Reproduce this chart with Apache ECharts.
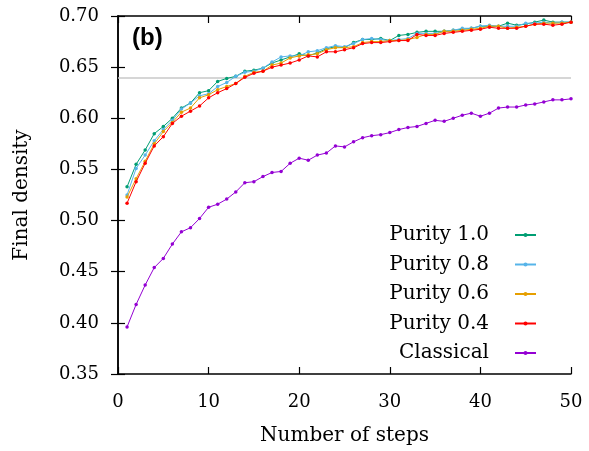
<!DOCTYPE html>
<html>
<head>
<meta charset="utf-8">
<script src="https://cdn.jsdelivr.net/npm/echarts@6/dist/echarts.min.js"></script>
<style>
  html, body { margin: 0; padding: 0; background: #fff; }
  #chart { width: 589px; height: 451px; }
</style>
</head>
<body>
<div id="chart"></div>
<script>
const steps = [];
for (let i = 1; i <= 50; i++) steps.push(i);

const purity10 = [0.533, 0.555, 0.569, 0.585, 0.592, 0.600, 0.610, 0.615, 0.625, 0.627,
  0.636, 0.639, 0.641, 0.646, 0.647, 0.649, 0.654, 0.657, 0.660, 0.663,
  0.661, 0.664, 0.668, 0.670, 0.669, 0.674, 0.677, 0.677, 0.678, 0.676,
  0.681, 0.682, 0.684, 0.685, 0.685, 0.685, 0.686, 0.687, 0.688, 0.690,
  0.690, 0.690, 0.693, 0.691, 0.692, 0.694, 0.696, 0.694, 0.694, 0.694];
const purity08 = [0.525, 0.551, 0.564, 0.578, 0.589, 0.598, 0.609, 0.615, 0.622, 0.624,
  0.631, 0.635, 0.641, 0.645, 0.646, 0.649, 0.655, 0.660, 0.661, 0.661,
  0.665, 0.666, 0.669, 0.671, 0.670, 0.673, 0.677, 0.678, 0.677, 0.676,
  0.677, 0.678, 0.683, 0.683, 0.683, 0.685, 0.686, 0.688, 0.688, 0.690,
  0.691, 0.690, 0.690, 0.690, 0.693, 0.693, 0.694, 0.693, 0.694, 0.694];
const purity06 = [0.523, 0.541, 0.558, 0.575, 0.587, 0.596, 0.606, 0.610, 0.620, 0.623,
  0.628, 0.631, 0.634, 0.641, 0.645, 0.646, 0.652, 0.654, 0.659, 0.661,
  0.662, 0.663, 0.667, 0.669, 0.669, 0.670, 0.674, 0.675, 0.675, 0.676,
  0.676, 0.677, 0.679, 0.682, 0.682, 0.685, 0.685, 0.686, 0.687, 0.688,
  0.690, 0.690, 0.688, 0.689, 0.690, 0.692, 0.693, 0.693, 0.693, 0.694];
const purity04 = [0.517, 0.538, 0.556, 0.573, 0.582, 0.595, 0.602, 0.607, 0.612, 0.620,
  0.625, 0.629, 0.634, 0.640, 0.644, 0.646, 0.650, 0.652, 0.654, 0.657,
  0.661, 0.660, 0.665, 0.665, 0.667, 0.669, 0.673, 0.674, 0.674, 0.675,
  0.676, 0.676, 0.682, 0.681, 0.681, 0.683, 0.684, 0.685, 0.686, 0.687,
  0.689, 0.688, 0.688, 0.688, 0.690, 0.692, 0.692, 0.691, 0.692, 0.694];
const classical = [0.396, 0.418, 0.437, 0.454, 0.463, 0.477, 0.489, 0.493, 0.502, 0.513,
  0.516, 0.521, 0.528, 0.537, 0.538, 0.543, 0.547, 0.548, 0.556, 0.561,
  0.559, 0.564, 0.566, 0.573, 0.572, 0.577, 0.581, 0.583, 0.584, 0.586,
  0.589, 0.591, 0.592, 0.595, 0.598, 0.597, 0.600, 0.603, 0.605, 0.602,
  0.605, 0.610, 0.611, 0.611, 0.613, 0.614, 0.616, 0.618, 0.618, 0.619];

const refLine = 0.643;

const names = ['Purity 1.0', 'Purity 0.8', 'Purity 0.6', 'Purity 0.4', 'Classical'];
const colors = ['#009e73', '#56b4e9', '#e69f00', '#ff0000', '#9400d3'];
const values = [purity10, purity08, purity06, purity04, classical];

const serif = 'DejaVu Serif';
const chart = echarts.init(document.getElementById('chart'));

const axisLine = { show: true, lineStyle: { color: '#000', width: 1.5 } };
const axisTick = { show: true, inside: true, length: 7, lineStyle: { color: '#000', width: 1.2 } };

const series = names.map((n, k) => ({
  name: n,
  type: 'line',
  xAxisIndex: 0,
  yAxisIndex: 0,
  data: steps.map((s, i) => [s, values[k][i]]),
  symbol: 'circle',
  symbolSize: 3.5,
  showSymbol: true,
  lineStyle: { width: 1, color: colors[k] },
  itemStyle: { color: colors[k] },
  z: 3 + k,
  animation: false
}));
series[0].markLine = {
  silent: true,
  symbol: 'none',
  label: { show: false },
  lineStyle: { color: '#c8c8c8', width: 1.5, type: 'solid' },
  data: [{ yAxis: refLine }],
  z: 1
};

chart.setOption({
  animation: false,
  color: colors,
  grid: { left: 118, right: 18, top: 16, bottom: 73 },
  title: {
    text: '(b)',
    left: 127,
    top: 21,
    textStyle: { fontFamily: 'Liberation Sans', fontWeight: 'bold', fontSize: 24, color: '#000' }
  },
  legend: {
    orient: 'vertical',
    align: 'right',
    right: 47,
    top: 220,
    itemWidth: 21,
    itemHeight: 5,
    itemGap: 9.5,
    data: names,
    textStyle: { fontFamily: serif, fontSize: 20, color: '#000', padding: [0, 21, 0, 0] }
  },
  xAxis: [{
    type: 'value', min: 0, max: 50, interval: 10,
    name: 'Number of steps', nameLocation: 'middle', nameGap: 52,
    nameTextStyle: { fontFamily: serif, fontSize: 20, color: '#000' },
    axisLine, axisTick, splitLine: { show: false },
    axisLabel: { fontFamily: serif, fontSize: 18, color: '#000', margin: 19 }
  }, {
    type: 'value', min: 0, max: 50, interval: 10, position: 'top',
    axisLine, axisTick, splitLine: { show: false }, axisLabel: { show: false }
  }],
  yAxis: [{
    type: 'value', min: 0.35, max: 0.70, interval: 0.05,
    name: 'Final density', nameLocation: 'middle', nameGap: 86,
    nameTextStyle: { fontFamily: serif, fontSize: 20, color: '#000' },
    axisLine, axisTick, splitLine: { show: false },
    axisLabel: { fontFamily: serif, fontSize: 18, color: '#000', margin: 19, formatter: v => v.toFixed(2) }
  }, {
    type: 'value', min: 0.35, max: 0.70, interval: 0.05, position: 'right',
    axisLine, axisTick, splitLine: { show: false }, axisLabel: { show: false }
  }],
  series
});
</script>
</body>
</html>
